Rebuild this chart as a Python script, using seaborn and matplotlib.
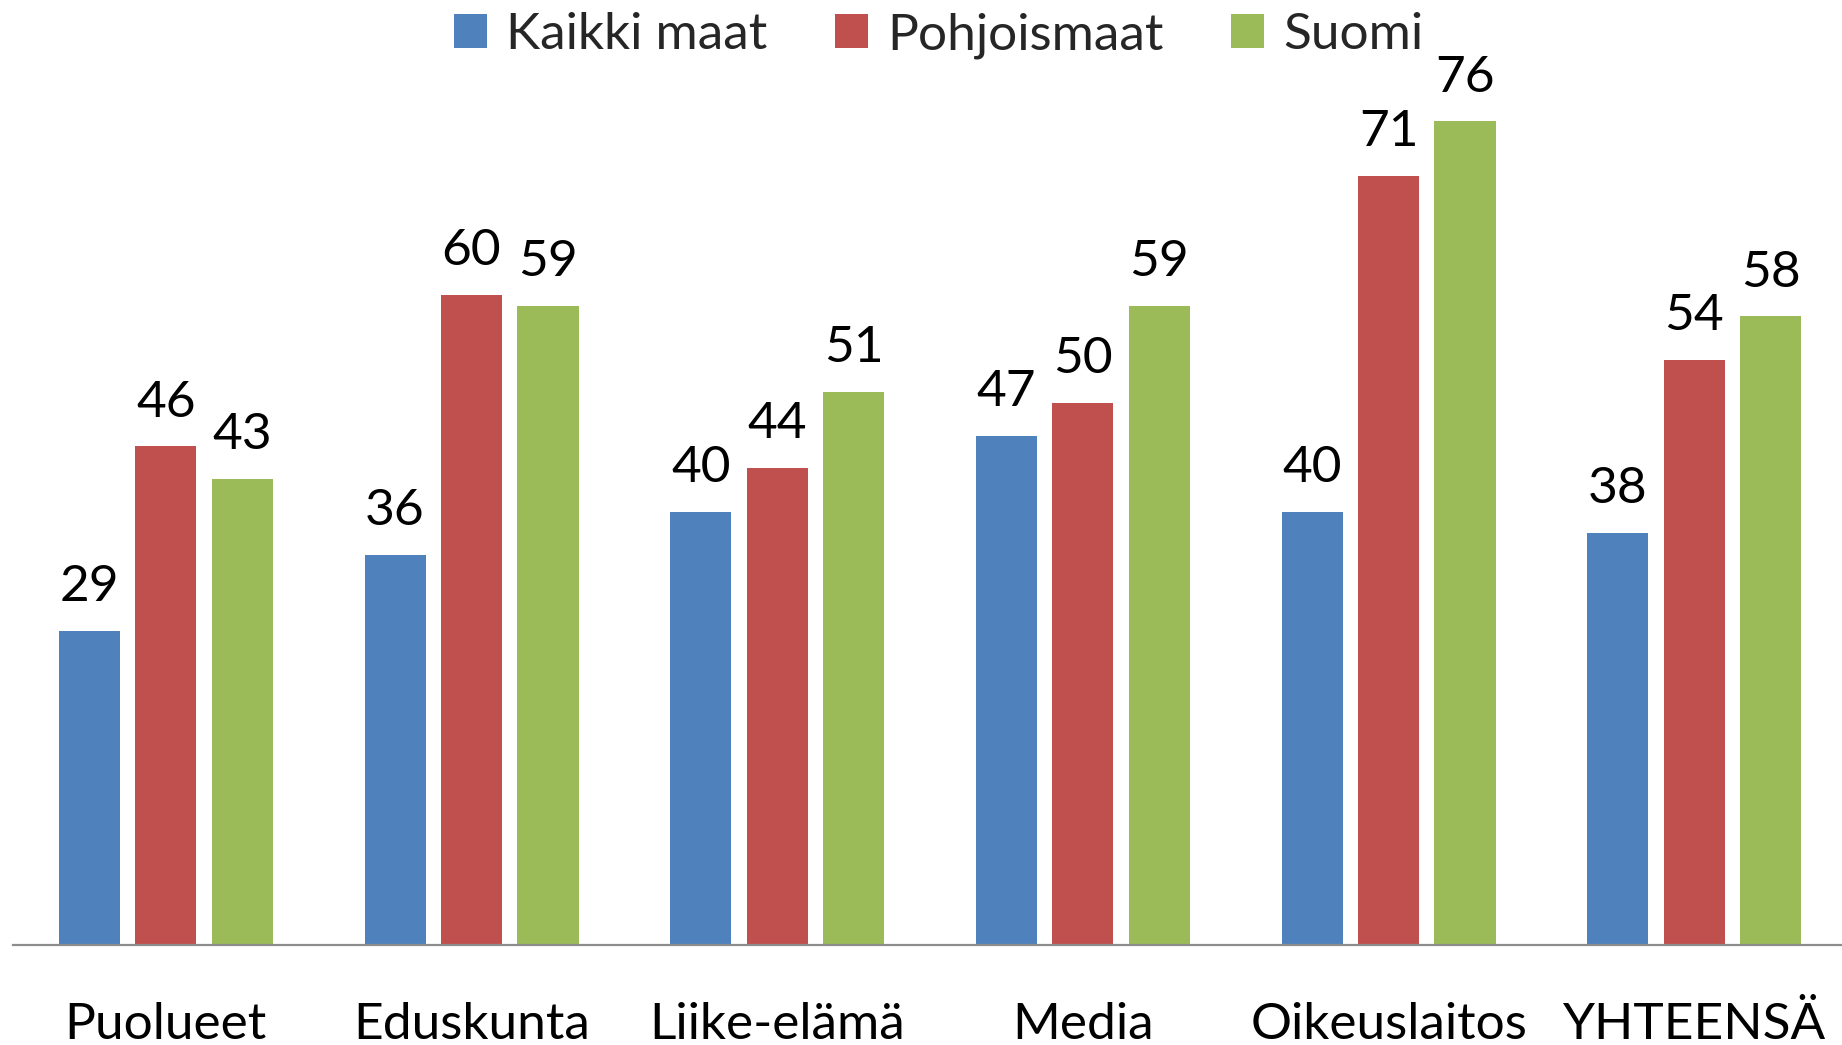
import numpy as np
import pandas as pd
import matplotlib
matplotlib.use("Agg")
import matplotlib.pyplot as plt
from matplotlib.patches import Patch
import seaborn as sns

# ── data ──────────────────────────────────────────────
categories = ["Puolueet", "Eduskunta", "Liike-elämä", "Media", "Oikeuslaitos", "YHTEENSÄ"]
series = ["Kaikki maat", "Pohjoismaat", "Suomi"]
kaikki_maat = [29, 36, 40, 47, 40, 38]
pohjoismaat = [46, 60, 44, 50, 71, 54]
suomi = [43, 59, 51, 59, 76, 58]

COLORS = ["#4F81BD", "#C0504D", "#9BBB59"]

df = pd.DataFrame({
    "kategoria": categories * 3,
    "sarja": [s for s in series for _ in categories],
    "arvo": kaikki_maat + pohjoismaat + suomi,
})

# ── style ─────────────────────────────────────────────
sns.set_theme(style="white")
plt.rcParams["font.family"] = ["Lato", "DejaVu Sans"]

fig = plt.figure(figsize=(18.42, 10.45), dpi=100)
ax = fig.add_axes([0.00706, 0.0957, 0.9957, 0.9043])

sns.barplot(data=df, x="kategoria", y="arvo", hue="sarja",
            order=categories, hue_order=series, palette=COLORS,
            width=0.75, gap=0.2, legend=False, ax=ax, saturation=1,
            edgecolor="none")

# arvot pylväiden päälle
for cont in ax.containers:
    ax.bar_label(cont, fmt="%d", padding=15, fontsize=37, color="black")

ax.set_xlim(-0.5, 5.5)
ax.set_ylim(0, 87.2)
ax.set_xlabel("")
ax.set_ylabel("")
ax.set_yticks([])
ax.tick_params(axis="x", length=0, pad=41, labelsize=37, colors="black")
for side in ["top", "right", "left"]:
    ax.spines[side].set_visible(False)
ax.spines["bottom"].set_color("#8C8C8C")
ax.spines["bottom"].set_linewidth(1.6)

handles = [Patch(facecolor=c, edgecolor="none") for c in COLORS]
fig.legend(handles, series, loc="upper center", bbox_to_anchor=(0.5095, 1.018),
           ncol=3, frameon=False, fontsize=37, handlelength=0.64,
           handleheight=0.64, handletextpad=0.37, columnspacing=1.32,
           borderpad=0.1)

fig.savefig("out.png", dpi=100)
